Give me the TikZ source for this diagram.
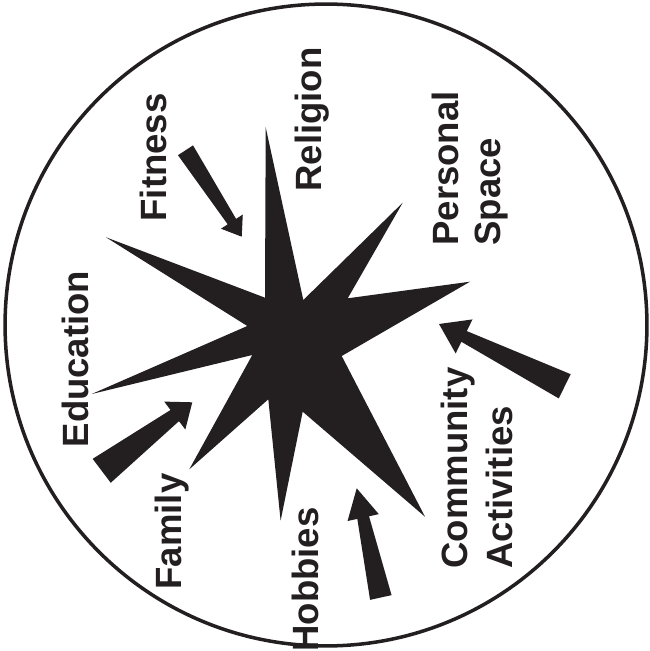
\documentclass[tikz,border=0pt]{standalone}
\usepackage{fontspec}
\setmainfont{Liberation Sans}
\usetikzlibrary{calc}

\definecolor{ink}{RGB}{35,31,32}

\begin{document}
\begin{tikzpicture}[
  x=0.02cm, y=-0.02cm,
  ring/.style={draw=ink, line width=2pt},
  lab/.style={font=\fontsize{20.8}{23.6}\selectfont\bfseries, text=ink, rotate=90,
    inner sep=0pt, anchor=west, align=left}
]
  \path[use as bounding box, fill=white] (0,0) rectangle (649,651);
  \draw[ring] (326,325) circle[radius=6.42cm];

  % the star
  \fill[ink] (265.7,127.3) -- (303.3,300) -- (402.7,202.7) -- (347.7,298.3)
    -- (470,281.7) -- (341.7,356) -- (425,516.7) -- (302.7,411.7)
    -- (280.6,520.7) -- (268.3,399.3) -- (189.3,469.3) -- (252.3,355)
    -- (91.7,394) -- (247.3,326) -- (106,237.3) -- (265,297.7) -- cycle;

  % arrows
  \coordinate (fit-tail) at (185.5,150.3);
  \coordinate (fit-tip)  at (241.7,236.7);
  \coordinate (fam-tail) at (101.7,470.8);
  \coordinate (fam-tip)  at (192.3,402.3);
  \coordinate (hob-tail) at (380.8,597.5);
  \coordinate (hob-tip)  at (356.7,488.3);
  \coordinate (com-tail) at (564.7,386.3);
  \coordinate (com-tip)  at (439,324);
  \foreach \n/\tw/\hl/\hw/\sw in {fit/0.18cm/0.36cm/0.26cm/0.1cm,
      fam/0.3cm/0.44cm/0.35cm/0.14cm, hob/0.22cm/0.6cm/0.32cm/0.12cm,
      com/0.27cm/0.56cm/0.38cm/0.12cm} {
    \coordinate (\n-head) at ($(\n-tip)!\hl!(\n-tail)$);
    \fill[ink] ($(\n-tail)!\tw!90:(\n-tip)$) -- ($(\n-head)!\sw!90:(\n-tip)$)
      -- ($(\n-head)!\hw!90:(\n-tip)$) -- (\n-tip)
      -- ($(\n-head)!\hw!-90:(\n-tip)$) -- ($(\n-head)!\sw!-90:(\n-tip)$)
      -- ($(\n-tail)!\tw!-90:(\n-tip)$) -- cycle;
  }

  \node[lab] (fitness) at (153,221.7) {Fitness};
  \node[lab] (religion) at (312,192) {Religion};
  \node[lab] (personal) at (470,246) {Personal\\Space};
  \node[lab] (education) at (75,447.7) {Education};
  \node[lab] (family) at (172,589.7) {Family};
  \node[lab] (hobbies) at (305,652) {Hobbies};
  \node[lab, font=\fontsize{20.8}{26}\selectfont\bfseries] (community) at (477,569) {Community\\Activities};
\end{tikzpicture}
\end{document}
